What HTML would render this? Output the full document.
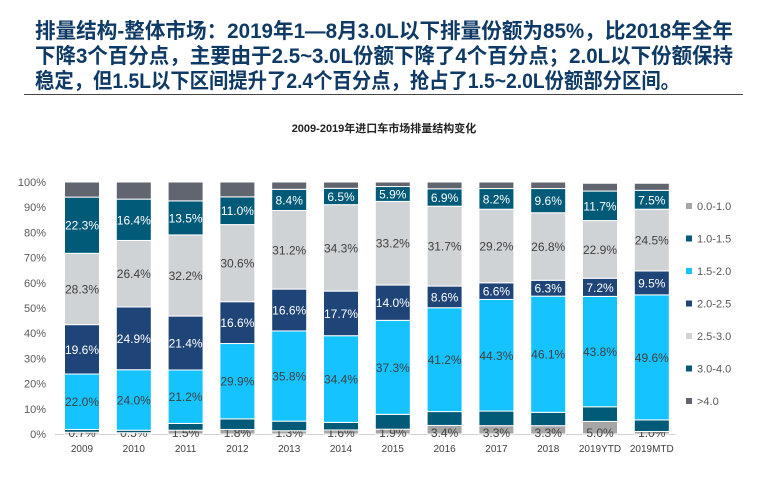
<!DOCTYPE html>
<html><head><meta charset="utf-8">
<style>
html,body{margin:0;padding:0;background:#fff;}
body{width:762px;height:476px;overflow:hidden;font-family:"Liberation Sans","Noto Sans CJK SC",sans-serif;}
</style></head>
<body>
<svg id="root" width="762" height="476" xmlns="http://www.w3.org/2000/svg">
<g font-family="'Liberation Sans','Noto Sans CJK SC',sans-serif" font-weight="bold" font-size="21" fill="#0f3a66">
<text x="35" y="38" textLength="698" lengthAdjust="spacingAndGlyphs">排量结构-整体市场：2019年1—8月3.0L以下排量份额为85%，比2018年全年</text>
<text x="35" y="63" textLength="698" lengthAdjust="spacingAndGlyphs">下降3个百分点，主要由于2.5~3.0L份额下降了4个百分点；2.0L以下份额保持</text>
<text x="35" y="88" textLength="645" lengthAdjust="spacingAndGlyphs">稳定，但1.5L以下区间提升了2.4个百分点，抢占了1.5~2.0L份额部分区间。</text>
</g>
<line x1="24" y1="94.5" x2="743" y2="94.5" stroke="#444" stroke-width="1"/>
<text x="384" y="132" text-anchor="middle" font-size="11" font-weight="bold" fill="#222">2009-2019年进口车市场排量结构变化</text>
<g id="chart"></g>
</svg>
<script>
const categories=["2009","2010","2011","2012","2013","2014","2015","2016","2017","2018","2019YTD","2019MTD"];
const seriesNames=["0.0-1.0","1.0-1.5","1.5-2.0","2.0-2.5","2.5-3.0","3.0-4.0",">4.0"];
const s00_10=[0.7,0.5,1.5,1.8,1.3,1.6,1.9,3.4,3.3,3.3,5.0,1.0];
const s10_15=[1.1,1.0,2.7,4.2,3.8,3.0,5.9,5.5,5.8,5.3,5.8,4.6];
const s15_20=[22.0,24.0,21.2,29.9,35.8,34.4,37.3,41.2,44.3,46.1,43.8,49.6];
const s20_25=[19.6,24.9,21.4,16.6,16.6,17.7,14.0,8.6,6.6,6.3,7.2,9.5];
const s25_30=[28.3,26.4,32.2,30.6,31.2,34.3,33.2,31.7,29.2,26.8,22.9,24.5];
const s30_40=[22.3,16.4,13.5,11.0,8.4,6.5,5.9,6.9,8.2,9.6,11.7,7.5];
const s40=[6.0,6.8,7.5,5.9,2.9,2.5,1.8,2.7,2.6,2.6,3.1,2.8];
const yTicks=[0,10,20,30,40,50,60,70,80,90,100];
const series=[s00_10,s10_15,s15_20,s20_25,s25_30,s30_40,s40];
const colors=["#a6a6a6","#005a78","#14c3ff","#1f4578","#d0d3d6","#005a78","#606570"];
const labelFill=["#444",null,"#404040","#fff","#404040","#fff",null];
const NS="http://www.w3.org/2000/svg";
const g=document.getElementById('chart');
const y0=434,y1=182,x0=82,step=51.8,bw=35;
function yS(v){return y0-(v/100)*(y0-y1);}
function xS(i){return x0+i*step;}
function mk(t,a){const e=document.createElementNS(NS,t);for(const k in a)e.setAttribute(k,a[k]);g.appendChild(e);return e;}
yTicks.forEach(t=>{
 const e=mk('text',{x:46,y:yS(t)+4,'text-anchor':'end','font-size':11,fill:'#595959'});
 e.textContent=t+'%';
 
 
});
const ax=mk('line',{x1:55,y1:y0+0.5,x2:675,y2:y0+0.5,stroke:'#d0d0d0','stroke-width':1});


categories.forEach((c,i)=>{
 let cum=0;
 series.forEach((s,k)=>{
  const v=s[i];const top=yS(cum+v),bot=yS(cum);
  const r=mk('rect',{x:xS(i)-bw/2,y:top,width:bw,height:Math.max(0,bot-top),fill:colors[k],stroke:'#fff','stroke-width':1});
  
  
  if(labelFill[k]){
   const ty=(k===0)?y0+3:(top+bot)/2+4.5;
   const l=mk('text',{x:xS(i),y:ty,'text-anchor':'middle','font-size':12,fill:labelFill[k]});
   l.textContent=v.toFixed(1)+'%';
   
   
  }
  cum+=v;
 });
 const xl=mk('text',{x:xS(i),y:452,'text-anchor':'middle','font-size':10,fill:'#404040'});
 xl.textContent=c;
 
 
});
seriesNames.forEach((n,k)=>{
 const yy=207+k*32.5;
 const m=mk('rect',{x:686,y:yy-4,width:6,height:6,fill:colors[k]});
 
 
 const t=mk('text',{x:697,y:yy+3,'font-size':11,fill:'#595959'});
 t.textContent=n;
 
 
});
</script>
</body></html>
